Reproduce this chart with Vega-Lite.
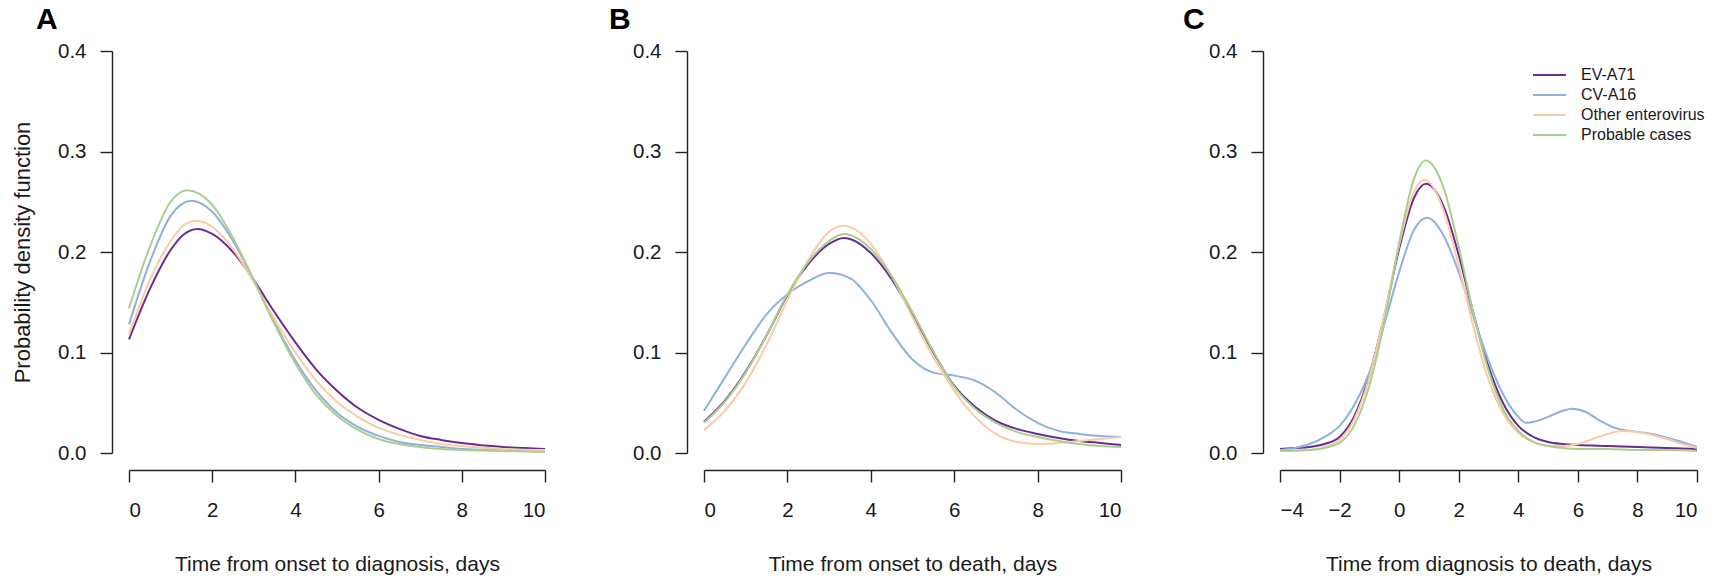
{
 "$schema": "https://vega.github.io/schema/vega-lite/v6.json",
 "autosize": {"type": "pad"},
 "padding": {"left": 11, "top": 5, "right": 15, "bottom": 5},
 "background": "white",
 "config": {
   "font": "Liberation Sans",
   "view": {"stroke": null},
   "axis": {"grid": false, "domainColor": "#222", "domainWidth": 1.4, "tickColor": "#222", "tickWidth": 1.4, "tickSize": 12, "labelFontSize": 20.5, "titleFontSize": 21, "labelColor": "#1a1a1a", "titleColor": "#1a1a1a", "titleFontWeight": "normal", "offset": 17},
   "axisX": {"labelPadding": 18, "titlePadding": 33, "labelAngle": 0},
   "axisY": {"labelPadding": 14, "titlePadding": 23, "labelAngle": 0, "titleFontSize": 22},
   "title": {"fontSize": 30, "fontWeight": "bold", "anchor": "start", "frame": "group", "color": "#000", "offset": 6, "baseline": "alphabetic"},
   "line": {"strokeWidth": 2, "interpolate": "monotone"}
 },
 "data": {"values": [
  {"panel":"A","series":"EV-A71","x":0,"y":0.113},{"panel":"A","series":"EV-A71","x":0.5,"y":0.163},{"panel":"A","series":"EV-A71","x":1,"y":0.202},{"panel":"A","series":"EV-A71","x":1.3,"y":0.217},{"panel":"A","series":"EV-A71","x":1.65,"y":0.223},{"panel":"A","series":"EV-A71","x":2,"y":0.218},{"panel":"A","series":"EV-A71","x":2.5,"y":0.200},{"panel":"A","series":"EV-A71","x":3,"y":0.172},{"panel":"A","series":"EV-A71","x":3.5,"y":0.140},{"panel":"A","series":"EV-A71","x":4,"y":0.110},{"panel":"A","series":"EV-A71","x":4.5,"y":0.083},{"panel":"A","series":"EV-A71","x":5,"y":0.062},{"panel":"A","series":"EV-A71","x":5.5,"y":0.045},{"panel":"A","series":"EV-A71","x":6,"y":0.033},{"panel":"A","series":"EV-A71","x":6.5,"y":0.024},{"panel":"A","series":"EV-A71","x":7,"y":0.017},{"panel":"A","series":"EV-A71","x":7.5,"y":0.013},{"panel":"A","series":"EV-A71","x":8,"y":0.010},{"panel":"A","series":"EV-A71","x":9,"y":0.006},{"panel":"A","series":"EV-A71","x":10,"y":0.004},
  {"panel":"A","series":"CV-A16","x":0,"y":0.128},{"panel":"A","series":"CV-A16","x":0.5,"y":0.190},{"panel":"A","series":"CV-A16","x":1,"y":0.236},{"panel":"A","series":"CV-A16","x":1.5,"y":0.251},{"panel":"A","series":"CV-A16","x":2,"y":0.240},{"panel":"A","series":"CV-A16","x":2.5,"y":0.211},{"panel":"A","series":"CV-A16","x":3,"y":0.172},{"panel":"A","series":"CV-A16","x":3.5,"y":0.130},{"panel":"A","series":"CV-A16","x":4,"y":0.092},{"panel":"A","series":"CV-A16","x":4.5,"y":0.062},{"panel":"A","series":"CV-A16","x":5,"y":0.040},{"panel":"A","series":"CV-A16","x":5.5,"y":0.026},{"panel":"A","series":"CV-A16","x":6,"y":0.017},{"panel":"A","series":"CV-A16","x":6.5,"y":0.011},{"panel":"A","series":"CV-A16","x":7,"y":0.008},{"panel":"A","series":"CV-A16","x":7.5,"y":0.006},{"panel":"A","series":"CV-A16","x":8,"y":0.004},{"panel":"A","series":"CV-A16","x":9,"y":0.003},{"panel":"A","series":"CV-A16","x":10,"y":0.002},
  {"panel":"A","series":"Other enterovirus","x":0,"y":0.118},{"panel":"A","series":"Other enterovirus","x":0.5,"y":0.172},{"panel":"A","series":"Other enterovirus","x":1,"y":0.211},{"panel":"A","series":"Other enterovirus","x":1.3,"y":0.226},{"panel":"A","series":"Other enterovirus","x":1.6,"y":0.231},{"panel":"A","series":"Other enterovirus","x":2,"y":0.225},{"panel":"A","series":"Other enterovirus","x":2.5,"y":0.203},{"panel":"A","series":"Other enterovirus","x":3,"y":0.170},{"panel":"A","series":"Other enterovirus","x":3.5,"y":0.133},{"panel":"A","series":"Other enterovirus","x":4,"y":0.100},{"panel":"A","series":"Other enterovirus","x":4.5,"y":0.072},{"panel":"A","series":"Other enterovirus","x":5,"y":0.051},{"panel":"A","series":"Other enterovirus","x":5.5,"y":0.036},{"panel":"A","series":"Other enterovirus","x":6,"y":0.025},{"panel":"A","series":"Other enterovirus","x":6.5,"y":0.018},{"panel":"A","series":"Other enterovirus","x":7,"y":0.013},{"panel":"A","series":"Other enterovirus","x":7.5,"y":0.009},{"panel":"A","series":"Other enterovirus","x":8,"y":0.007},{"panel":"A","series":"Other enterovirus","x":9,"y":0.004},{"panel":"A","series":"Other enterovirus","x":10,"y":0.003},
  {"panel":"A","series":"Probable cases","x":0,"y":0.144},{"panel":"A","series":"Probable cases","x":0.5,"y":0.205},{"panel":"A","series":"Probable cases","x":1,"y":0.250},{"panel":"A","series":"Probable cases","x":1.4,"y":0.2615},{"panel":"A","series":"Probable cases","x":2,"y":0.247},{"panel":"A","series":"Probable cases","x":2.5,"y":0.214},{"panel":"A","series":"Probable cases","x":3,"y":0.172},{"panel":"A","series":"Probable cases","x":3.5,"y":0.128},{"panel":"A","series":"Probable cases","x":4,"y":0.089},{"panel":"A","series":"Probable cases","x":4.5,"y":0.058},{"panel":"A","series":"Probable cases","x":5,"y":0.037},{"panel":"A","series":"Probable cases","x":5.5,"y":0.023},{"panel":"A","series":"Probable cases","x":6,"y":0.014},{"panel":"A","series":"Probable cases","x":6.5,"y":0.009},{"panel":"A","series":"Probable cases","x":7,"y":0.006},{"panel":"A","series":"Probable cases","x":7.5,"y":0.004},{"panel":"A","series":"Probable cases","x":8,"y":0.003},{"panel":"A","series":"Probable cases","x":9,"y":0.002},{"panel":"A","series":"Probable cases","x":10,"y":0.001},

  {"panel":"B","series":"EV-A71","x":0,"y":0.031},{"panel":"B","series":"EV-A71","x":0.5,"y":0.052},{"panel":"B","series":"EV-A71","x":1,"y":0.081},{"panel":"B","series":"EV-A71","x":1.5,"y":0.117},{"panel":"B","series":"EV-A71","x":2,"y":0.157},{"panel":"B","series":"EV-A71","x":2.5,"y":0.188},{"panel":"B","series":"EV-A71","x":3,"y":0.208},{"panel":"B","series":"EV-A71","x":3.35,"y":0.214},{"panel":"B","series":"EV-A71","x":3.5,"y":0.213},{"panel":"B","series":"EV-A71","x":4,"y":0.199},{"panel":"B","series":"EV-A71","x":4.5,"y":0.173},{"panel":"B","series":"EV-A71","x":5,"y":0.138},{"panel":"B","series":"EV-A71","x":5.5,"y":0.100},{"panel":"B","series":"EV-A71","x":6,"y":0.067},{"panel":"B","series":"EV-A71","x":6.5,"y":0.046},{"panel":"B","series":"EV-A71","x":7,"y":0.032},{"panel":"B","series":"EV-A71","x":7.5,"y":0.024},{"panel":"B","series":"EV-A71","x":8,"y":0.019},{"panel":"B","series":"EV-A71","x":8.5,"y":0.015},{"panel":"B","series":"EV-A71","x":9,"y":0.012},{"panel":"B","series":"EV-A71","x":9.5,"y":0.010},{"panel":"B","series":"EV-A71","x":10,"y":0.008},
  {"panel":"B","series":"CV-A16","x":0,"y":0.042},{"panel":"B","series":"CV-A16","x":0.5,"y":0.075},{"panel":"B","series":"CV-A16","x":1,"y":0.108},{"panel":"B","series":"CV-A16","x":1.5,"y":0.138},{"panel":"B","series":"CV-A16","x":2,"y":0.158},{"panel":"B","series":"CV-A16","x":2.5,"y":0.171},{"panel":"B","series":"CV-A16","x":3,"y":0.179},{"panel":"B","series":"CV-A16","x":3.5,"y":0.174},{"panel":"B","series":"CV-A16","x":4,"y":0.152},{"panel":"B","series":"CV-A16","x":4.5,"y":0.120},{"panel":"B","series":"CV-A16","x":5,"y":0.093},{"panel":"B","series":"CV-A16","x":5.5,"y":0.080},{"panel":"B","series":"CV-A16","x":6,"y":0.077},{"panel":"B","series":"CV-A16","x":6.5,"y":0.072},{"panel":"B","series":"CV-A16","x":7,"y":0.060},{"panel":"B","series":"CV-A16","x":7.5,"y":0.043},{"panel":"B","series":"CV-A16","x":8,"y":0.030},{"panel":"B","series":"CV-A16","x":8.5,"y":0.022},{"panel":"B","series":"CV-A16","x":9,"y":0.019},{"panel":"B","series":"CV-A16","x":9.5,"y":0.017},{"panel":"B","series":"CV-A16","x":10,"y":0.016},
  {"panel":"B","series":"Other enterovirus","x":0,"y":0.023},{"panel":"B","series":"Other enterovirus","x":0.5,"y":0.042},{"panel":"B","series":"Other enterovirus","x":1,"y":0.070},{"panel":"B","series":"Other enterovirus","x":1.5,"y":0.108},{"panel":"B","series":"Other enterovirus","x":2,"y":0.152},{"panel":"B","series":"Other enterovirus","x":2.5,"y":0.192},{"panel":"B","series":"Other enterovirus","x":3,"y":0.220},{"panel":"B","series":"Other enterovirus","x":3.35,"y":0.226},{"panel":"B","series":"Other enterovirus","x":3.5,"y":0.225},{"panel":"B","series":"Other enterovirus","x":4,"y":0.208},{"panel":"B","series":"Other enterovirus","x":4.5,"y":0.176},{"panel":"B","series":"Other enterovirus","x":5,"y":0.135},{"panel":"B","series":"Other enterovirus","x":5.5,"y":0.095},{"panel":"B","series":"Other enterovirus","x":6,"y":0.062},{"panel":"B","series":"Other enterovirus","x":6.5,"y":0.036},{"panel":"B","series":"Other enterovirus","x":7,"y":0.019},{"panel":"B","series":"Other enterovirus","x":7.5,"y":0.011},{"panel":"B","series":"Other enterovirus","x":8,"y":0.009},{"panel":"B","series":"Other enterovirus","x":8.5,"y":0.010},{"panel":"B","series":"Other enterovirus","x":9,"y":0.012},{"panel":"B","series":"Other enterovirus","x":9.5,"y":0.014},{"panel":"B","series":"Other enterovirus","x":10,"y":0.016},
  {"panel":"B","series":"Probable cases","x":0,"y":0.030},{"panel":"B","series":"Probable cases","x":0.5,"y":0.051},{"panel":"B","series":"Probable cases","x":1,"y":0.080},{"panel":"B","series":"Probable cases","x":1.5,"y":0.117},{"panel":"B","series":"Probable cases","x":2,"y":0.158},{"panel":"B","series":"Probable cases","x":2.5,"y":0.190},{"panel":"B","series":"Probable cases","x":3,"y":0.211},{"panel":"B","series":"Probable cases","x":3.35,"y":0.218},{"panel":"B","series":"Probable cases","x":3.5,"y":0.217},{"panel":"B","series":"Probable cases","x":4,"y":0.203},{"panel":"B","series":"Probable cases","x":4.5,"y":0.176},{"panel":"B","series":"Probable cases","x":5,"y":0.140},{"panel":"B","series":"Probable cases","x":5.5,"y":0.101},{"panel":"B","series":"Probable cases","x":6,"y":0.066},{"panel":"B","series":"Probable cases","x":6.5,"y":0.044},{"panel":"B","series":"Probable cases","x":7,"y":0.030},{"panel":"B","series":"Probable cases","x":7.5,"y":0.021},{"panel":"B","series":"Probable cases","x":8,"y":0.016},{"panel":"B","series":"Probable cases","x":8.5,"y":0.012},{"panel":"B","series":"Probable cases","x":9,"y":0.009},{"panel":"B","series":"Probable cases","x":9.5,"y":0.007},{"panel":"B","series":"Probable cases","x":10,"y":0.006},

  {"panel":"C","series":"EV-A71","x":-4,"y":0.004},{"panel":"C","series":"EV-A71","x":-3.5,"y":0.005},{"panel":"C","series":"EV-A71","x":-3,"y":0.006},{"panel":"C","series":"EV-A71","x":-2.5,"y":0.009},{"panel":"C","series":"EV-A71","x":-2,"y":0.016},{"panel":"C","series":"EV-A71","x":-1.5,"y":0.037},{"panel":"C","series":"EV-A71","x":-1,"y":0.077},{"panel":"C","series":"EV-A71","x":-0.5,"y":0.136},{"panel":"C","series":"EV-A71","x":0,"y":0.203},{"panel":"C","series":"EV-A71","x":0.5,"y":0.254},{"panel":"C","series":"EV-A71","x":0.9,"y":0.268},{"panel":"C","series":"EV-A71","x":1.5,"y":0.245},{"panel":"C","series":"EV-A71","x":2,"y":0.197},{"panel":"C","series":"EV-A71","x":2.5,"y":0.138},{"panel":"C","series":"EV-A71","x":3,"y":0.086},{"panel":"C","series":"EV-A71","x":3.5,"y":0.049},{"panel":"C","series":"EV-A71","x":4,"y":0.027},{"panel":"C","series":"EV-A71","x":4.5,"y":0.016},{"panel":"C","series":"EV-A71","x":5,"y":0.011},{"panel":"C","series":"EV-A71","x":5.5,"y":0.009},{"panel":"C","series":"EV-A71","x":6,"y":0.008},{"panel":"C","series":"EV-A71","x":7,"y":0.007},{"panel":"C","series":"EV-A71","x":8,"y":0.006},{"panel":"C","series":"EV-A71","x":9,"y":0.005},{"panel":"C","series":"EV-A71","x":10,"y":0.004},
  {"panel":"C","series":"CV-A16","x":-4,"y":0.003},{"panel":"C","series":"CV-A16","x":-3.5,"y":0.005},{"panel":"C","series":"CV-A16","x":-3,"y":0.009},{"panel":"C","series":"CV-A16","x":-2.5,"y":0.016},{"panel":"C","series":"CV-A16","x":-2,"y":0.027},{"panel":"C","series":"CV-A16","x":-1.5,"y":0.048},{"panel":"C","series":"CV-A16","x":-1,"y":0.080},{"panel":"C","series":"CV-A16","x":-0.5,"y":0.128},{"panel":"C","series":"CV-A16","x":0,"y":0.180},{"panel":"C","series":"CV-A16","x":0.5,"y":0.222},{"panel":"C","series":"CV-A16","x":0.94,"y":0.234},{"panel":"C","series":"CV-A16","x":1.5,"y":0.216},{"panel":"C","series":"CV-A16","x":2,"y":0.180},{"panel":"C","series":"CV-A16","x":2.5,"y":0.135},{"panel":"C","series":"CV-A16","x":3,"y":0.092},{"panel":"C","series":"CV-A16","x":3.5,"y":0.058},{"panel":"C","series":"CV-A16","x":4,"y":0.036},{"panel":"C","series":"CV-A16","x":4.26,"y":0.030},{"panel":"C","series":"CV-A16","x":4.5,"y":0.031},{"panel":"C","series":"CV-A16","x":5,"y":0.036},{"panel":"C","series":"CV-A16","x":5.5,"y":0.042},{"panel":"C","series":"CV-A16","x":5.8,"y":0.044},{"panel":"C","series":"CV-A16","x":6.25,"y":0.041},{"panel":"C","series":"CV-A16","x":6.75,"y":0.032},{"panel":"C","series":"CV-A16","x":7.25,"y":0.025},{"panel":"C","series":"CV-A16","x":8,"y":0.021},{"panel":"C","series":"CV-A16","x":8.5,"y":0.019},{"panel":"C","series":"CV-A16","x":9,"y":0.015},{"panel":"C","series":"CV-A16","x":9.5,"y":0.011},{"panel":"C","series":"CV-A16","x":10,"y":0.006},
  {"panel":"C","series":"Other enterovirus","x":-4,"y":0.002},{"panel":"C","series":"Other enterovirus","x":-3,"y":0.003},{"panel":"C","series":"Other enterovirus","x":-2.5,"y":0.006},{"panel":"C","series":"Other enterovirus","x":-2,"y":0.013},{"panel":"C","series":"Other enterovirus","x":-1.5,"y":0.034},{"panel":"C","series":"Other enterovirus","x":-1,"y":0.075},{"panel":"C","series":"Other enterovirus","x":-0.5,"y":0.137},{"panel":"C","series":"Other enterovirus","x":0,"y":0.207},{"panel":"C","series":"Other enterovirus","x":0.5,"y":0.260},{"panel":"C","series":"Other enterovirus","x":0.85,"y":0.272},{"panel":"C","series":"Other enterovirus","x":1.5,"y":0.241},{"panel":"C","series":"Other enterovirus","x":2,"y":0.186},{"panel":"C","series":"Other enterovirus","x":2.5,"y":0.125},{"panel":"C","series":"Other enterovirus","x":3,"y":0.073},{"panel":"C","series":"Other enterovirus","x":3.5,"y":0.039},{"panel":"C","series":"Other enterovirus","x":4,"y":0.020},{"panel":"C","series":"Other enterovirus","x":4.5,"y":0.011},{"panel":"C","series":"Other enterovirus","x":5,"y":0.007},{"panel":"C","series":"Other enterovirus","x":5.5,"y":0.007},{"panel":"C","series":"Other enterovirus","x":6,"y":0.009},{"panel":"C","series":"Other enterovirus","x":6.5,"y":0.014},{"panel":"C","series":"Other enterovirus","x":7,"y":0.019},{"panel":"C","series":"Other enterovirus","x":7.5,"y":0.022},{"panel":"C","series":"Other enterovirus","x":8,"y":0.021},{"panel":"C","series":"Other enterovirus","x":8.5,"y":0.018},{"panel":"C","series":"Other enterovirus","x":9,"y":0.014},{"panel":"C","series":"Other enterovirus","x":9.5,"y":0.009},{"panel":"C","series":"Other enterovirus","x":10,"y":0.005},
  {"panel":"C","series":"Probable cases","x":-4,"y":0.002},{"panel":"C","series":"Probable cases","x":-3,"y":0.003},{"panel":"C","series":"Probable cases","x":-2.5,"y":0.005},{"panel":"C","series":"Probable cases","x":-2,"y":0.010},{"panel":"C","series":"Probable cases","x":-1.5,"y":0.028},{"panel":"C","series":"Probable cases","x":-1,"y":0.067},{"panel":"C","series":"Probable cases","x":-0.5,"y":0.130},{"panel":"C","series":"Probable cases","x":0,"y":0.209},{"panel":"C","series":"Probable cases","x":0.5,"y":0.273},{"panel":"C","series":"Probable cases","x":0.9,"y":0.291},{"panel":"C","series":"Probable cases","x":1.5,"y":0.263},{"panel":"C","series":"Probable cases","x":2,"y":0.205},{"panel":"C","series":"Probable cases","x":2.5,"y":0.138},{"panel":"C","series":"Probable cases","x":3,"y":0.082},{"panel":"C","series":"Probable cases","x":3.5,"y":0.043},{"panel":"C","series":"Probable cases","x":4,"y":0.022},{"panel":"C","series":"Probable cases","x":4.5,"y":0.011},{"panel":"C","series":"Probable cases","x":5,"y":0.007},{"panel":"C","series":"Probable cases","x":5.5,"y":0.005},{"panel":"C","series":"Probable cases","x":6,"y":0.004},{"panel":"C","series":"Probable cases","x":7,"y":0.004},{"panel":"C","series":"Probable cases","x":8,"y":0.003},{"panel":"C","series":"Probable cases","x":9,"y":0.003},{"panel":"C","series":"Probable cases","x":10,"y":0.002}
 ]},
 "bounds": "flush",
 "spacing": 159,
 "resolve": {"legend": {"color": "independent"}},
 "hconcat": [
  {
   "title": {"text": "A", "dx": -93},
   "width": 416, "height": 402,
   "transform": [{"filter": "datum.panel === 'A'"}],
   "mark": {"type": "line"},
   "encoding": {
    "x": {"field": "x", "type": "quantitative", "scale": {"domain": [0, 10], "nice": false, "zero": false}, "axis": {"values": [0, 2, 4, 6, 8, 10], "title": "Time from onset to diagnosis, days"}},
    "y": {"field": "y", "type": "quantitative", "scale": {"domain": [0, 0.4], "nice": false}, "axis": {"values": [0, 0.1, 0.2, 0.3, 0.4], "format": ".1f", "title": "Probability density function"}},
    "color": {"field": "series", "type": "nominal", "scale": {"domain": ["EV-A71", "CV-A16", "Other enterovirus", "Probable cases"], "range": ["#6a2c91", "#8eb1db", "#fbcba8", "#a8cf8d"]}, "legend": null}
   }
  },
  {
   "title": {"text": "B", "dx": -95},
   "width": 417, "height": 402,
   "transform": [{"filter": "datum.panel === 'B'"}],
   "mark": {"type": "line"},
   "encoding": {
    "x": {"field": "x", "type": "quantitative", "scale": {"domain": [0, 10], "nice": false, "zero": false}, "axis": {"values": [0, 2, 4, 6, 8, 10], "title": "Time from onset to death, days"}},
    "y": {"field": "y", "type": "quantitative", "scale": {"domain": [0, 0.4], "nice": false}, "axis": {"values": [0, 0.1, 0.2, 0.3, 0.4], "format": ".1f", "title": null}},
    "color": {"field": "series", "type": "nominal", "scale": {"domain": ["EV-A71", "CV-A16", "Other enterovirus", "Probable cases"], "range": ["#6a2c91", "#8eb1db", "#fbcba8", "#a8cf8d"]}, "legend": null}
   }
  },
  {
   "title": {"text": "C", "dx": -97},
   "width": 417, "height": 402,
   "transform": [{"filter": "datum.panel === 'C'"}],
   "mark": {"type": "line"},
   "encoding": {
    "x": {"field": "x", "type": "quantitative", "scale": {"domain": [-4, 10], "nice": false, "zero": false}, "axis": {"values": [-4, -2, 0, 2, 4, 6, 8, 10], "title": "Time from diagnosis to death, days"}},
    "y": {"field": "y", "type": "quantitative", "scale": {"domain": [0, 0.4], "nice": false}, "axis": {"values": [0, 0.1, 0.2, 0.3, 0.4], "format": ".1f", "title": null}},
    "color": {"field": "series", "type": "nominal", "scale": {"domain": ["EV-A71", "CV-A16", "Other enterovirus", "Probable cases"], "range": ["#6a2c91", "#8eb1db", "#fbcba8", "#a8cf8d"]},
     "legend": {"orient": "none", "legendX": 258.5, "legendY": 13, "title": null, "symbolType": "M-1.65,0H1.65", "symbolSize": 400, "symbolStrokeWidth": 2, "labelFontSize": 16, "labelOffset": 20.5, "rowPadding": 1, "padding": 0, "labelColor": "#1a1a1a"}}
   }
  }
 ]
}
